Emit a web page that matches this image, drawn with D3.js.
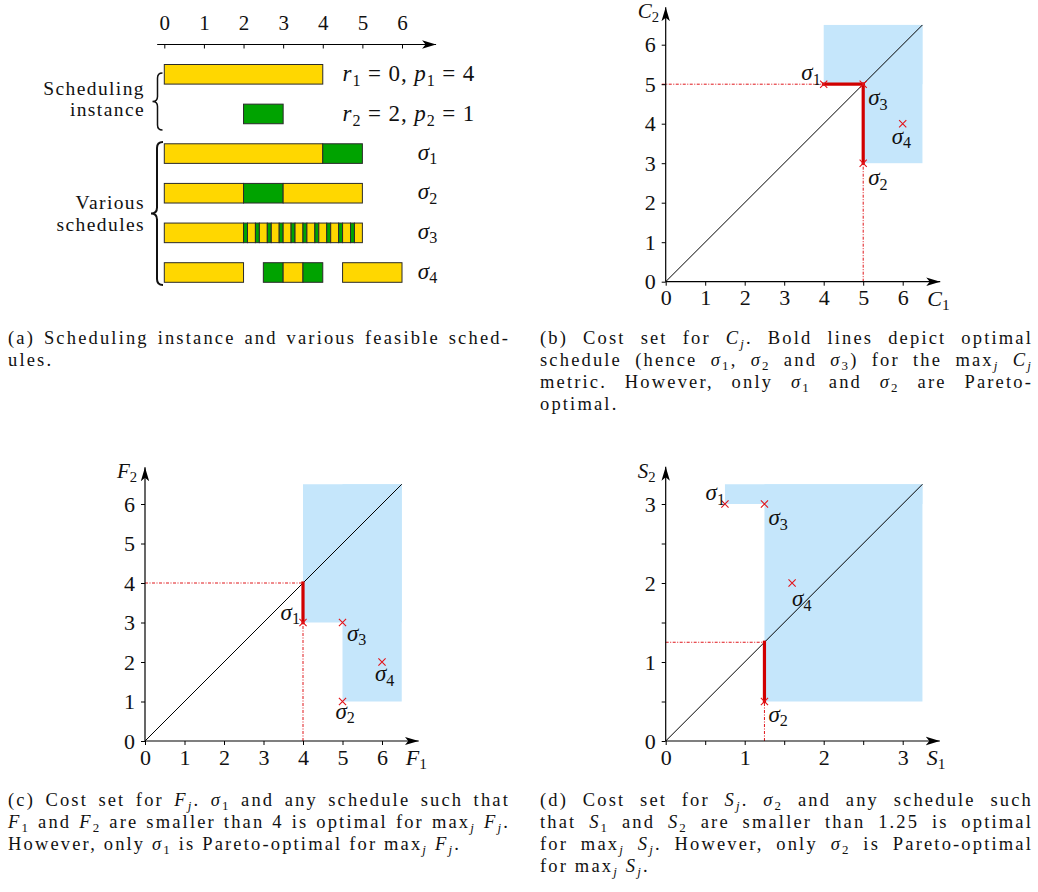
<!DOCTYPE html>
<html><head><meta charset="utf-8">
<script src="https://cdn.jsdelivr.net/npm/d3@7"></script>
<style>
body{margin:0;background:#fff}
svg{display:block}
svg text{fill:#111;white-space:pre}
</style>
</head><body>
<svg id="fig" width="1038" height="892"></svg>
<script>
// ================= DATA =================
const timeTicks = [0, 1, 2, 3, 4, 5, 6];
// each segment: [start, end, job]
const instanceJob1 = [[0, 4, "J1"]];
const instanceJob2 = [[2, 3, "J2"]];
const instanceLabels = ["$r_1 = 0, p_1 = 4$", "$r_2 = 2, p_2 = 1$"];
const schedule1 = [[0, 4, "J1"], [4, 5, "J2"]];
const schedule2 = [[0, 2, "J1"], [2, 3, "J2"], [3, 5, "J1"]];
const schedule3 = [[0, 2, "J1"], [2, 2.1, "J2"], [2.1, 2.3, "J1"], [2.3, 2.4, "J2"], [2.4, 2.6, "J1"],
  [2.6, 2.7, "J2"], [2.7, 2.9, "J1"], [2.9, 3.0, "J2"], [3.0, 3.2, "J1"], [3.2, 3.3, "J2"],
  [3.3, 3.5, "J1"], [3.5, 3.6, "J2"], [3.6, 3.8, "J1"], [3.8, 3.9, "J2"], [3.9, 4.1, "J1"],
  [4.1, 4.2, "J2"], [4.2, 4.4, "J1"], [4.4, 4.5, "J2"], [4.5, 4.7, "J1"], [4.7, 4.8, "J2"], [4.8, 5, "J1"]];
const schedule4 = [[0, 2, "J1"], [2.5, 3, "J2"], [3, 3.5, "J1"], [3.5, 4, "J2"], [4.5, 6, "J1"]];
const scheduleNames = ["$σ_1$", "$σ_2$", "$σ_3$", "$σ_4$"];
const groupLabels = [["Scheduling", "instance"], ["Various", "schedules"]];

// cost points: [name, x, y]
const costC = [["σ1", 4, 5], ["σ2", 5, 3], ["σ3", 5, 5], ["σ4", 6, 4]];
const costF = [["σ1", 4, 3], ["σ2", 5, 1], ["σ3", 5, 3], ["σ4", 6, 2]];
const costS = [["σ1", 0.75, 3], ["σ2", 1.25, 0.5], ["σ3", 1.25, 3], ["σ4", 1.6, 2]];
// dominated regions [x0, x1, y0, y1]
const regionC = [[4, 6.5, 5, 6.5], [5, 6.5, 3, 6.5]];
const regionF = [[4, 6.5, 3, 6.5], [5, 6.5, 1, 6.5]];
const regionS = [[0.75, 3.25, 3, 3.25], [1.25, 3.25, 0.5, 3.25]];
// optimal (bold) segments [x1, y1, x2, y2]
const optimalC = [[4, 5, 5, 5], [5, 5, 5, 3]];
const optimalF = [[4, 4, 4, 3]];
const optimalS = [[1.25, 1.25, 1.25, 0.5]];
// dotted guides [x1, y1, x2, y2]
const guideC = [[-0.1, 5, 4, 5], [5, 0, 5, 3]];
const guideF = [[0, 4, 4, 4], [4, 0, 4, 3]];
const guideS = [[0, 1.25, 1.25, 1.25], [1.25, 0, 1.25, 0.5]];
const diagC = 6.5, diagF = 6.5, diagS = 3.25;
const ticksC = [0, 1, 2, 3, 4, 5, 6];
const ticksF = [0, 1, 2, 3, 4, 5, 6];
const ticksS = [0, 0.5, 1, 1.5, 2, 2.5, 3];
const axisNamesC = ["C", "C"], axisNamesF = ["F", "F"], axisNamesS = ["S", "S"];

const captionA = ["(a) Scheduling instance and various feasible sched-", "ules."];
const captionB = ["(b) Cost set for $C_j$. Bold lines depict optimal",
  "schedule (hence $σ_1$, $σ_2$ and $σ_3$) for the $max_j C_j$",
  "metric. However, only $σ_1$ and $σ_2$ are Pareto-",
  "optimal."];
const captionC = ["(c) Cost set for $F_j$. $σ_1$ and any schedule such that",
  "$F_1$ and $F_2$ are smaller than 4 is optimal for $max_j F_j$.",
  "However, only $σ_1$ is Pareto-optimal for $max_j F_j$."];
const captionD = ["(d) Cost set for $S_j$. $σ_2$ and any schedule such",
  "that $S_1$ and $S_2$ are smaller than 1.25 is optimal",
  "for $max_j S_j$. However, only $σ_2$ is Pareto-optimal",
  "for $max_j S_j$."];

// ================= STYLE =================
const FONT = "Liberation Serif";
const YEL = "#ffd700", GRN = "#00a300", BLUE = "#c5e6fb";
const RED = "#d10000", RED2 = "#e0161b";
const jobColor = {J1: YEL, J2: GRN};

const svg = d3.select("#fig").attr("font-family", FONT);
const defs = svg.append("defs");
defs.append("marker").attr("id", "arr").attr("markerUnits", "userSpaceOnUse")
  .attr("markerWidth", 16).attr("markerHeight", 10).attr("refX", 14).attr("refY", 5)
  .attr("orient", "auto")
  .append("path").attr("d", "M0,0.8 L14,5 L0,9.2 L3.5,5 Z").attr("fill", "#000");

// ---------- rich text (tiny TeX-like) ----------
function rich(sel, str, fs) {
  sel.attr("font-family", FONT);
  let pending = 0;
  const add = (txt, style, size) => {
    const t = sel.append("tspan").text(txt);
    if (style) t.attr("font-style", style);
    if (size) t.attr("font-size", size);
    return t;
  };
  str.split("$").forEach((p, i) => {
    if (i % 2 === 0) {
      if (p) { const t = add(p); if (pending) { t.attr("dy", pending); pending = 0; } }
      return;
    }
    let k = 0;
    while (k < p.length) {
      let t;
      if (p.startsWith("max", k)) { t = add("max"); k += 3; }
      else if (p[k] === "_") {
        const c = p[k + 1];
        t = add(c, /[0-9]/.test(c) ? null : "italic", fs * 0.7);
        t.attr("dy", fs * 0.2 + pending); pending = -fs * 0.2; k += 2; continue;
      } else {
        const c = p[k];
        t = add(c, /[A-Za-zσ]/.test(c) ? "italic" : null); k += 1;
      }
      if (pending) { t.attr("dy", pending); pending = 0; }
    }
  });
}

// ================= PANEL (a) =================
const xa = d3.scaleLinear().domain([0, 6]).range([164.3, 402]);
const ya = d3.scaleLinear().domain([0, 5]).range([74.3, 272.5]);
const barH = 19.6;
const ga = svg.append("g");
ga.append("line").attr("x1", xa(-0.18)).attr("x2", xa(6.86)).attr("y1", 44.5).attr("y2", 44.5)
  .attr("stroke", "#000").attr("stroke-width", 1.1).attr("marker-end", "url(#arr)");
ga.append("g").attr("transform", "translate(0,44.5)")
  .call(d3.axisTop(xa).tickValues(timeTicks).tickSizeInner(-4).tickSizeOuter(0).tickPadding(15).tickFormat(d3.format("d")))
  .call(g => {
    g.select(".domain").remove();
    g.attr("font-family", FONT).attr("font-size", 21);
    g.selectAll("line").attr("stroke", "#000");
    g.selectAll("text").attr("fill", "#111").attr("font-family", FONT);
  });
const rows = [instanceJob1, instanceJob2, schedule1, schedule2, schedule3, schedule4];
rows.forEach((segs, r) => {
  ga.append("g").selectAll("rect").data(segs).join("rect")
    .attr("x", d => xa(d[0])).attr("width", d => xa(d[1]) - xa(d[0]))
    .attr("y", ya(r) - barH / 2).attr("height", barH)
    .attr("fill", d => jobColor[d[2]]).attr("stroke", "#2b2b2b").attr("stroke-width", 1);
});
instanceLabels.forEach((s, i) => {
  const t = ga.append("text").attr("x", xa(4.5)).attr("y", ya(i) + 7).attr("font-size", 23)
    .attr("letter-spacing", 0.9);
  rich(t, s, 23);
});
scheduleNames.forEach((s, i) => {
  const t = ga.append("text").attr("x", xa(6.4)).attr("y", ya(i + 2) + 6).attr("font-size", 23);
  rich(t, s, 23);
});
function brace(x, y1, y2, w) {
  const m = (y1 + y2) / 2, h = w / 2;
  return `M${x},${y1} Q${x - h},${y1} ${x - h},${y1 + h} L${x - h},${m - h} Q${x - h},${m} ${x - w},${m}` +
    ` Q${x - h},${m} ${x - h},${m + h} L${x - h},${y2 - h} Q${x - h},${y2} ${x},${y2}`;
}
ga.append("path").attr("d", brace(162.5, 73, 130, 10)).attr("fill", "none").attr("stroke", "#111").attr("stroke-width", 1.5);
ga.append("path").attr("d", brace(163, 142, 285, 12)).attr("fill", "none").attr("stroke", "#111").attr("stroke-width", 2);
const groupBase = [[94.5, 116.2], [209, 230.7]];
groupLabels.forEach((ls, g) => ls.forEach((s, j) => {
  ga.append("text").attr("x", 145).attr("y", groupBase[g][j]).attr("text-anchor", "end")
    .attr("font-family", FONT).attr("font-size", 19.5).attr("letter-spacing", 1.4).text(s);
}));

// ================= COST PANELS =================
function costPanel(cfg) {
  const x = d3.scaleLinear().domain([0, 1]).range([cfg.x0, cfg.x0 + cfg.unit]);
  const y = d3.scaleLinear().domain([0, 1]).range([cfg.y0, cfg.y0 - cfg.unit]);
  const g = svg.append("g");
  g.selectAll(".reg").data(cfg.regions).join("rect")
    .attr("x", d => x(d[0])).attr("y", d => y(d[3]))
    .attr("width", d => x(d[1]) - x(d[0])).attr("height", d => y(d[2]) - y(d[3]))
    .attr("fill", BLUE);
  g.append("line").attr("x1", x(0)).attr("y1", y(0)).attr("x2", x(cfg.diag)).attr("y2", y(cfg.diag))
    .attr("stroke", "#000").attr("stroke-width", 1);
  g.selectAll(".gd").data(cfg.guides).join("line")
    .attr("x1", d => x(d[0])).attr("y1", d => y(d[1])).attr("x2", d => x(d[2])).attr("y2", d => y(d[3]))
    .attr("stroke", RED2).attr("stroke-width", 1).attr("stroke-dasharray", "3,1.5,1,1.5");
  g.selectAll(".op").data(cfg.optimal).join("line")
    .attr("x1", d => x(d[0])).attr("y1", d => y(d[1])).attr("x2", d => x(d[2])).attr("y2", d => y(d[3]))
    .attr("stroke", RED).attr("stroke-width", 3.2).attr("stroke-linecap", "square");
  const fmt = d => Number.isInteger(d) ? String(d) : "";
  const styleAxis = a => {
    a.select(".domain").remove();
    a.attr("font-family", FONT).attr("font-size", 22);
    a.selectAll("line").attr("stroke", "#000").attr("stroke-width", 1);
    a.selectAll("text").attr("fill", "#111").attr("font-family", FONT);
  };
  g.append("g").attr("transform", `translate(0,${y(0)})`)
    .call(d3.axisBottom(x).tickValues(cfg.ticks).tickSize(4).tickPadding(4).tickFormat(fmt)).call(styleAxis);
  g.append("g").attr("transform", `translate(${x(0)},0)`)
    .call(d3.axisLeft(y).tickValues(cfg.ticks).tickSize(4).tickPadding(6).tickFormat(fmt)).call(styleAxis);
  g.append("line").attr("x1", x(0)).attr("y1", y(0)).attr("x2", x(cfg.max)).attr("y2", y(0))
    .attr("stroke", "#000").attr("stroke-width", 1.2).attr("marker-end", "url(#arr)");
  g.append("line").attr("x1", x(0)).attr("y1", y(0)).attr("x2", x(0)).attr("y2", y(cfg.max))
    .attr("stroke", "#000").attr("stroke-width", 1.2).attr("marker-end", "url(#arr)");
  // axis names
  const yl = g.append("text").attr("x", x(0) - 28).attr("y", y(cfg.max) + 11).attr("font-size", 21);
  rich(yl, `$${cfg.names[1]}_2$`, 21);
  const xl = g.append("text").attr("x", x(cfg.max) - 13).attr("y", y(0) + 24).attr("font-size", 22);
  rich(xl, `$${cfg.names[0]}_1$`, 22);
  // markers
  g.selectAll(".mk").data(cfg.points).join("path")
    .attr("transform", d => `translate(${x(d[1])},${y(d[2])})`)
    .attr("d", "M-3.6,-3.6L3.6,3.6M-3.6,3.6L3.6,-3.6")
    .attr("stroke", "#e3141a").attr("stroke-width", 1.1).attr("fill", "none");
  // labels
  cfg.points.forEach(d => {
    const o = cfg.labelPos[d[0]];
    const t = g.append("text").attr("x", x(d[1]) + o[0]).attr("y", y(d[2]) + o[1])
      .attr("text-anchor", o[2]).attr("font-size", 23);
    rich(t, `$σ_${d[0].slice(1)}$`, 23);
  });
}

costPanel({x0: 665.7, y0: 281.7, unit: 39.5, max: 6.95, regions: regionC, diag: diagC,
  guides: guideC, optimal: optimalC, ticks: ticksC, points: costC, names: axisNamesC,
  labelPos: {σ1: [-3, -4, "end"], σ2: [5, 22, "start"], σ3: [5, 21, "start"], σ4: [-11, 20, "start"]}});
costPanel({x0: 145, y0: 741, unit: 39.5, max: 6.93, regions: regionF, diag: diagF,
  guides: guideF, optimal: optimalF, ticks: ticksF, points: costF, names: axisNamesF,
  labelPos: {σ1: [-3, -3, "end"], σ2: [-7, 17, "start"], σ3: [4.5, 18, "start"], σ4: [-7, 19, "start"]}});
costPanel({x0: 665.7, y0: 741, unit: 79, max: 3.47, regions: regionS, diag: diagS,
  guides: guideS, optimal: optimalS, ticks: ticksS, points: costS, names: axisNamesS,
  labelPos: {σ1: [0, -4, "end"], σ2: [4, 20, "start"], σ3: [4, 21, "start"], σ4: [0, 23, "start"]}});

// ================= CAPTIONS =================
const CAPFS = 18.5;
const capItems = [];
function caption(lines, left, width, base, lead) {
  lines.forEach((ln, i) => {
    const t = svg.append("text").attr("x", left).attr("y", base + i * lead).attr("font-size", CAPFS);
    rich(t, ln, CAPFS);
    capItems.push({t, justify: i < lines.length - 1, width});
  });
}
caption(captionA, 8, 502, 344, 22);
caption(captionB, 540, 493, 344, 22);
caption(captionC, 8, 502, 806, 22);
caption(captionD, 540, 493, 806, 22);
const refNode = capItems[7].t.node(); // last line of caption (c), its width sets the tracking
const refW = refNode.getComputedTextLength();
const ls = Math.max(0, (489 - refW) / refNode.textContent.length);
capItems.forEach(c => c.t.attr("letter-spacing", ls));
capItems.forEach(c => {
  if (!c.justify) return;
  const n = c.t.node();
  const w = n.getComputedTextLength();
  const sp = (n.textContent.match(/ /g) || []).length;
  if (sp) c.t.attr("word-spacing", (c.width - w) / sp);
});
</script>
</body></html>
